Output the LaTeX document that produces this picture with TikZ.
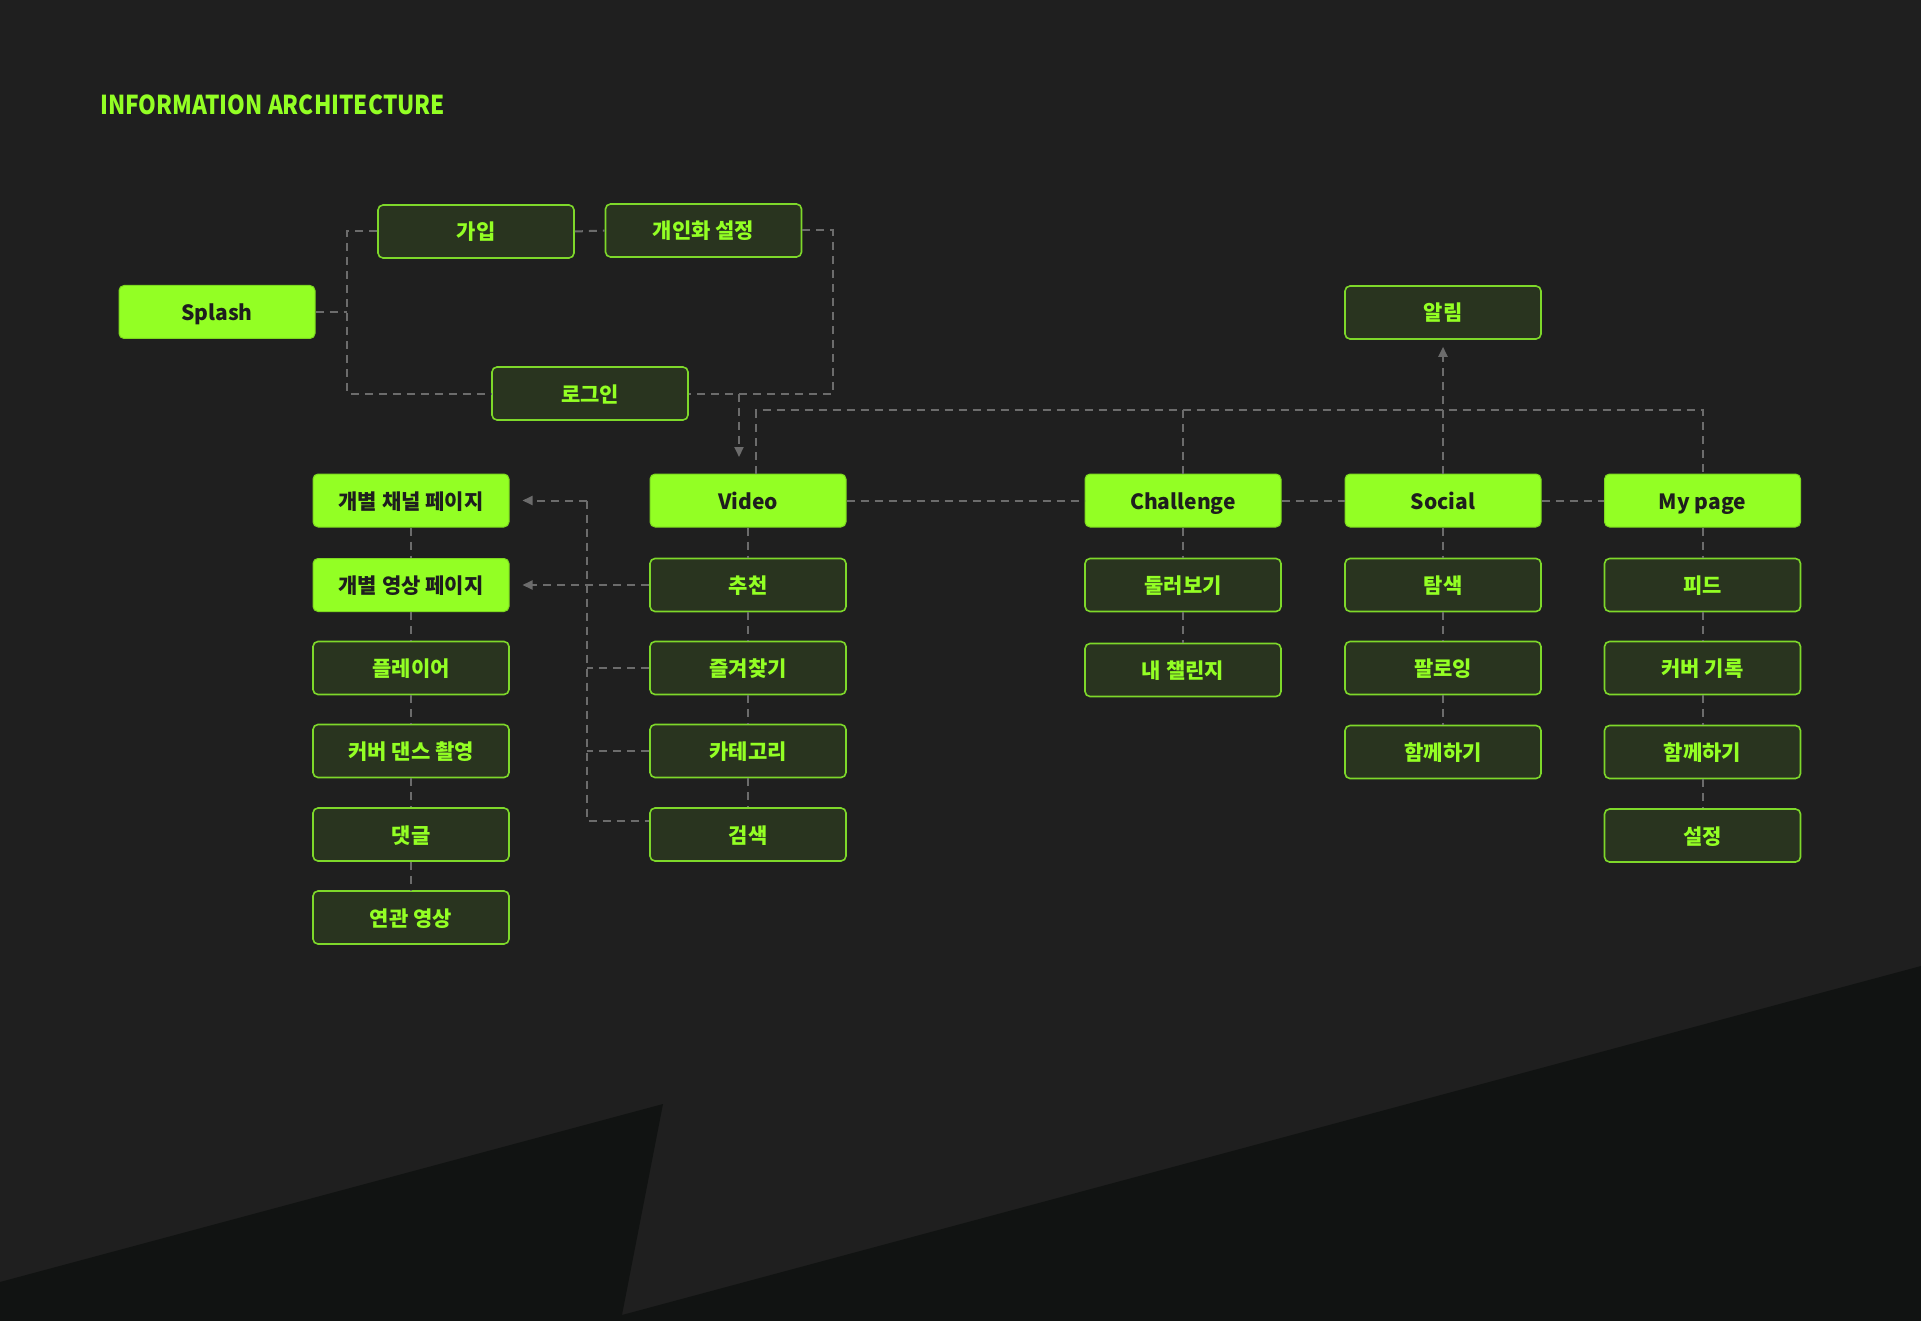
\documentclass[tikz,border=0pt]{standalone}
\usepackage{fontspec}
\setmainfont{Noto Sans CJK KR}
\usetikzlibrary{arrows.meta}
\definecolor{bg}{HTML}{1F1F1F}
\definecolor{bgdark}{HTML}{111312}
\definecolor{lime}{HTML}{93FF24}
\definecolor{limeedge}{HTML}{7ED82A}
\definecolor{boxdark}{HTML}{29341F}
\definecolor{txtdark}{HTML}{1E1E1E}
\definecolor{linegray}{HTML}{6C6C6C}
\tikzset{
  box/.style={rounded corners=5pt, minimum width=196pt, minimum height=53pt, inner sep=0pt,
    text height=19pt, text depth=2pt,
    font=\fontsize{21}{24}\selectfont\bfseries},
  prim/.style={box, fill=lime, draw=lime!85!black, line width=1pt, text=txtdark},
  sec/.style={box, fill=boxdark, draw=limeedge, line width=1.6pt, text=lime},
  conn/.style={draw=linegray, line width=2pt, dash pattern=on 8pt off 6pt},
  arr/.style={conn, -{Triangle[length=10pt,width=9pt]}, shorten >=0pt},
}
\begin{document}
\begin{tikzpicture}[x=1pt,y=-1pt]
\fill[bg] (0,0) rectangle (1921,1321);
\fill[bgdark] (0,1282) -- (663,1104) -- (622,1315) -- (1921,966) -- (1921,1321) -- (0,1321) -- cycle;
\useasboundingbox (0,0) rectangle (1921,1321);

\node[anchor=base west, text=lime, inner sep=0pt, xscale=0.87, transform shape,
  font=\fontsize{26}{30}\selectfont\bfseries] (title) at (100,115) {INFORMATION ARCHITECTURE};

% top flow
\node[prim] (splash) at (217,312) {Splash};
\node[sec] (join) at (476,231.5) {가입};
\node[sec] (pers) at (703.5,230.5) {개인화 설정};
\node[sec] (login) at (590,393.5) {로그인};
\node[sec] (alarm) at (1443,312.5) {알림};

% main row
\node[prim] (video) at (748,500.5) {Video};
\node[prim] (chal) at (1183,500.5) {Challenge};
\node[prim] (social) at (1443,500.5) {Social};
\node[prim] (mypage) at (1702.5,500.5) {My page};

% left column
\node[prim] (chan) at (411,500.5) {개별 채널 페이지};
\node[prim] (vpage) at (411,585) {개별 영상 페이지};
\node[sec] (player) at (411,668) {플레이어};
\node[sec] (cover) at (411,751) {커버 댄스 촬영};
\node[sec] (comment) at (411,834.5) {댓글};
\node[sec] (related) at (411,917.5) {연관 영상};

% video children
\node[sec] (rec) at (748,585) {추천};
\node[sec] (fav) at (748,668) {즐겨찾기};
\node[sec] (cat) at (748,751) {카테고리};
\node[sec] (search) at (748,834.5) {검색};

% challenge children
\node[sec] (look) at (1183,585) {둘러보기};
\node[sec] (mych) at (1183,670) {내 챌린지};

% social children
\node[sec] (explore) at (1443,585) {탐색};
\node[sec] (follow) at (1443,668) {팔로잉};
\node[sec] (togeth1) at (1443,752) {함께하기};

% my page children
\node[sec] (feed) at (1702.5,585) {피드};
\node[sec] (covrec) at (1702.5,668) {커버 기록};
\node[sec] (togeth2) at (1702.5,752) {함께하기};
\node[sec] (sett) at (1702.5,835.5) {설정};

% coordinates
\coordinate (sx) at (347,312);
\coordinate (px) at (833,393.5);
\coordinate (la) at (739,393.5);
\coordinate (vtip) at (739,457);
\coordinate (vbus) at (756,410);
\coordinate (lb) at (587,500.5);

% top connectors
\draw[conn] (splash.east) -- (sx);
\draw[conn] (join.west) -| (sx) |- (login.west);
\draw[conn] (join.east) -- (pers.west);
\draw[conn] (pers.east) -| (px) -- (login.east);
\draw[arr] (la) -- (vtip);
\draw[conn] (video.north -| vbus) -- (vbus) -| (mypage.north);
\draw[conn] (chal.north |- vbus) -- (chal.north);
\draw[arr, shorten >=7pt] (social.north) -- (alarm.south);

% main row
\draw[conn] (video.east) -- (chal.west);
\draw[conn] (chal.east) -- (social.west);
\draw[conn] (social.east) -- (mypage.west);

% left bus
\draw[arr, shorten >=13pt] (lb) -- (chan.east);
\draw[conn] (lb) |- ([yshift=13.5pt]search.west);
\draw[conn] (fav.west) -- (fav.west -| lb);
\draw[conn] (cat.west) -- (cat.west -| lb);
\draw[arr, shorten >=13pt] (rec.west) -- (vpage.east);

% vertical chains
\draw[conn] (chan) -- (vpage) -- (player) -- (cover) -- (comment) -- (related);
\draw[conn] (video) -- (rec) -- (fav) -- (cat) -- (search);
\draw[conn] (chal) -- (look) -- (mych);
\draw[conn] (social) -- (explore) -- (follow) -- (togeth1);
\draw[conn] (mypage) -- (feed) -- (covrec) -- (togeth2) -- (sett);
\end{tikzpicture}
\end{document}
